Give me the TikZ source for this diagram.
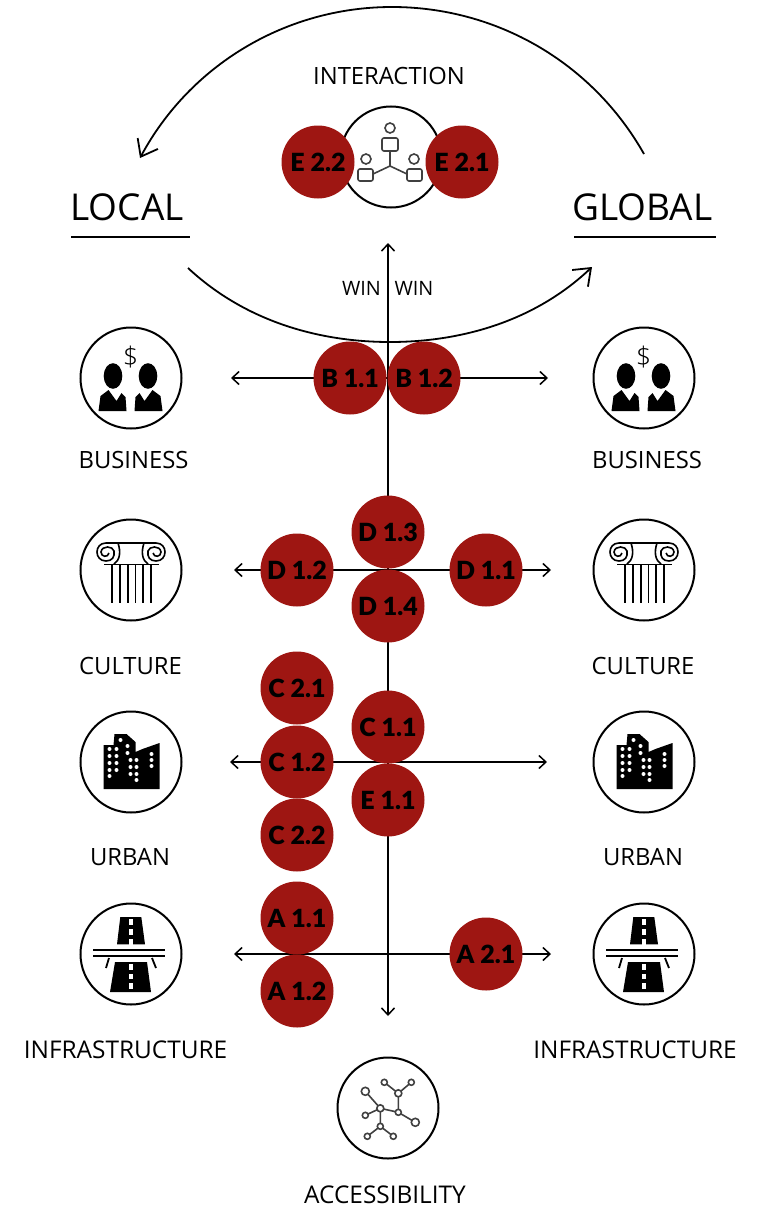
\documentclass[tikz,border=0pt]{standalone}
\usepackage{fontspec}
\setmainfont{Open Sans}
\newfontfamily\redfont{Lato Black}
\newfontfamily\thinfont{Open Sans Light}
\usetikzlibrary{arrows.meta}
\definecolor{cred}{HTML}{9E1612}
\definecolor{cgray}{HTML}{404040}
\tikzset{
  iconring/.style={circle,draw=black,line width=2pt,fill=white,minimum size=101pt,inner sep=0pt},
  tag/.style={circle,fill=cred,minimum size=73pt,inner sep=0pt,text=black,font=\redfont\fontsize{25}{25}\selectfont},
  lab/.style={inner sep=0pt,font=\fontsize{24.4}{25}\selectfont},
  labs/.style={inner sep=0pt,font=\fontsize{23.8}{25}\selectfont},
  big/.style={inner sep=0pt,font=\fontsize{37}{38}\selectfont},
  small/.style={inner sep=0pt,font=\fontsize{19.8}{20}\selectfont},
  axis/.style={line width=1.5pt,{Straight Barb[length=7pt,width=13pt]}-{Straight Barb[length=7pt,width=13pt]}},
  flow/.style={line width=1.8pt,-{Straight Barb[length=15pt,width=23pt]}},
  rule/.style={line width=1.4pt},
  net/.style={draw=cgray,line width=1.6pt,fill=white},
}
\newcommand{\bizicon}[2]{\begin{scope}[shift={(#1,#2)}]
  \fill (-17.5,-2) ellipse (9.3 and 12.8);
  \fill (17.5,-2) ellipse (9.3 and 12.8);
  \fill (-32,33)--(-30,18)--(-22,12)--(-14,23)--(-9,15)--(-5,19)--(-4,33)--cycle;
  \fill (32,33)--(30,18)--(22,12)--(14,23)--(9,15)--(5,19)--(4,33)--cycle;
  \node[inner sep=0pt,font=\thinfont\fontsize{27}{27}\selectfont] at (0,-21) {\$};
\end{scope}}
\newcommand{\colicon}[2]{\begin{scope}[shift={(#1,#2)}]
  \draw[line width=1.8pt] (-25,-27) -- (25,-27);
  \draw[line width=1.6pt] (-25,-27) .. controls (-37,-27) and (-37,-9) .. (-25,-9) .. controls (-19,-9) and (-16,-13) .. (-17,-19) .. controls (-18,-24) and (-29,-25) .. (-30,-18) .. controls (-30,-13) and (-23,-12) .. (-22,-17);
  \draw[line width=1.6pt] (25,-27) .. controls (37,-27) and (37,-9) .. (25,-9) .. controls (19,-9) and (16,-13) .. (17,-19) .. controls (18,-24) and (29,-25) .. (30,-18) .. controls (30,-13) and (23,-12) .. (22,-17);
  \draw[line width=1.6pt] (-13,-27) .. controls (-10,-18) and (-11,-10) .. (-17,-6);
  \draw[line width=1.6pt] (13,-27) .. controls (10,-18) and (11,-10) .. (17,-6);
  \draw[line width=1.8pt] (-27,-5.5) -- (28,-5.5);
  \foreach \x in {-19,-11,-3,4.5,12,20}{\draw[line width=1.7pt] (\x,-5.5) -- (\x,33);}
\end{scope}}
\newcommand{\cityicon}[2]{\begin{scope}[shift={(#1,#2)}]
  \fill (-27,-17)--(-17,-17)--(-16,-28)--(-4,-28)--(5,-20)--(5,-10)--(12,-13)--(29,-19)--(29,27)--(-27,27)--cycle;
  \foreach \p/\q in {-21/-13,-14/-13,-21/-6,-14/-6,-21/1,-14/1,-21/8,-14/8,-21/14,-10/-22,-3/-16,-3/-9,0/-2,6/-2,0/5,6/5,0/12,6/12,6/18,21/-8,21/-2,21/4}
    {\fill[white] (\p,\q) circle (2);}
\end{scope}}
\newcommand{\roadicon}[2]{\begin{scope}[shift={(#1,#2)}]
  \fill (-10.7,-38)--(10.3,-38)--(14,-10.7)--(-14,-10.7)--cycle;
  \fill (-16,7)--(16,7)--(20,37)--(-21,37)--cycle;
  \foreach \q in {-36,-26,-16,9,18.5,28}{\fill[white] (-1.8,\q) rectangle (1.8,\q+5.5);}
  \draw[line width=1.9pt] (-38,-5) -- (34,-5) (-38,1) -- (34,1);
  \draw[line width=1.8pt] (-22,3) -- (-25,13) (21,3) -- (25,13);
\end{scope}}
\begin{document}
\begin{tikzpicture}[x=1pt,y=-1pt]
\useasboundingbox (0,0) rectangle (758,1207);
% icon rings
\node[iconring] (inter) at (391,157) {};
\node[iconring] (bizL) at (131,378) {};
\node[iconring] (bizR) at (644,378) {};
\node[iconring] (culL) at (131,570) {};
\node[iconring] (culR) at (644,570) {};
\node[iconring] (urbL) at (131,762) {};
\node[iconring] (urbR) at (644,762) {};
\node[iconring] (infL) at (131,954) {};
\node[iconring] (infR) at (644,954) {};
\node[iconring] (acc) at (388,1108) {};
% interaction icon
\begin{scope}[shift={(390,157)},cgray,line width=1.6pt]
  \draw (0,-29) circle (5);
  \draw[rounded corners=2pt] (-8,-19) rectangle (8,-6);
  \draw (-24,2) circle (5);
  \draw[rounded corners=2pt] (-32,12) rectangle (-17,24);
  \draw (24,2) circle (5);
  \draw[rounded corners=2pt] (17,12) rectangle (32,24);
  \draw (0,-6) -- (0,9) (-17,17) -- (0,9) -- (17,17);
\end{scope}
\bizicon{130.5}{378}\bizicon{643.5}{378}
\colicon{131}{570}\colicon{644}{570}
\cityicon{130.5}{762}\cityicon{643.5}{762}
\roadicon{131}{955}\roadicon{644}{955}
% accessibility icon
\begin{scope}[shift={(387.3,1107.3)}]
  \coordinate (na) at (-22,-16); \coordinate (nb) at (-7,1); \coordinate (nc) at (-22,8);
  \coordinate (nd) at (-3,-25); \coordinate (ne) at (24,-25); \coordinate (nf) at (11,-14);
  \coordinate (ng) at (11,5); \coordinate (nh) at (28,15); \coordinate (ni) at (-7,19);
  \coordinate (nj) at (-20,29); \coordinate (nk) at (6,29);
  \draw[cgray,line width=1.6pt] (na)--(nb) (nc)--(nb) (nb)--(ng) (ng)--(nf) (nf)--(nd) (nf)--(ne) (ng)--(nh) (nb)--(ni) (ni)--(nj) (ni)--(nk);
  \foreach \n/\r in {na/4,nb/3.5,nc/3,nd/3,ne/3,nf/3.5,ng/3,nh/4,ni/3,nj/3,nk/3}{\draw[net] (\n) circle (\r);}
\end{scope}
% axes
\coordinate (vT) at (388,243); \coordinate (vB) at (388,1016);
\draw[axis] (vT) -- (vB);
\coordinate (h1L) at (231,378); \coordinate (h1R) at (548,378);
\coordinate (h2L) at (234,570); \coordinate (h2R) at (551,570);
\coordinate (h3L) at (230,762); \coordinate (h3R) at (547,762);
\coordinate (h4L) at (234,954); \coordinate (h4R) at (551,954);
\draw[axis] (h1L) -- (h1R);
\draw[axis] (h2L) -- (h2R);
\draw[axis] (h3L) -- (h3R);
\draw[axis] (h4L) -- (h4R);
% flows
\coordinate (fgS) at (644,154); \coordinate (fgE) at (140,158);
\coordinate (flS) at (188,268); \coordinate (flE) at (592,267);
\draw[flow] (fgS) .. controls (592,62) and (496,7) .. (392,7) .. controls (286,7) and (190,65) .. (fgE);
\draw[flow] (flS) .. controls (246,322) and (320,342) .. (390,342) .. controls (460,342) and (534,322) .. (flE);
% red tags
\node[tag] (E22) at (318,162) {E 2.2};
\node[tag] (E21) at (462,162) {E 2.1};
\node[tag] (B11) at (350,378) {B 1.1};
\node[tag] (B12) at (424,378) {B 1.2};
\node[tag] (D13) at (388,532) {D 1.3};
\node[tag] (D12) at (297,570) {D 1.2};
\node[tag] (D11) at (486,570) {D 1.1};
\node[tag] (D14) at (388,606) {D 1.4};
\node[tag] (C21) at (297,688) {C 2.1};
\node[tag] (C11) at (388,727) {C 1.1};
\node[tag] (C12) at (297,762) {C 1.2};
\node[tag] (E11) at (388,800) {E 1.1};
\node[tag] (C22) at (297,835) {C 2.2};
\node[tag] (A11) at (297,918) {A 1.1};
\node[tag] (A21) at (486,954) {A 2.1};
\node[tag] (A12) at (297,991) {A 1.2};
% text
\node[big] (tLocal) at (127,207.5) {LOCAL};
\node[big] (tGlobal) at (642.5,207.5) {GLOBAL};
\coordinate (u1a) at (71,237); \coordinate (u1b) at (190,237);
\coordinate (u2a) at (574,237); \coordinate (u2b) at (716,237);
\draw[rule] (u1a) -- (u1b);
\draw[rule] (u2a) -- (u2b);
\node[labs] (tInter) at (389,75.5) {INTERACTION};
\node[small] (tWinL) at (361.5,288.5) {WIN};
\node[small] (tWinR) at (414,288.5) {WIN};
\node[labs] (t1) at (133.5,459.5) {BUSINESS};
\node[labs] (t2) at (647,459.5) {BUSINESS};
\node[labs] (t3) at (130.5,665.5) {CULTURE};
\node[labs] (t4) at (643,665.5) {CULTURE};
\node[labs] (t5) at (130,857.5) {URBAN};
\node[labs] (t6) at (643,857.5) {URBAN};
\node[lab] (t7) at (125.5,1049.5) {INFRASTRUCTURE};
\node[lab] (t8) at (635,1049.5) {INFRASTRUCTURE};
\node[lab] (t9) at (385,1194.5) {ACCESSIBILITY};
\end{tikzpicture}
\end{document}
